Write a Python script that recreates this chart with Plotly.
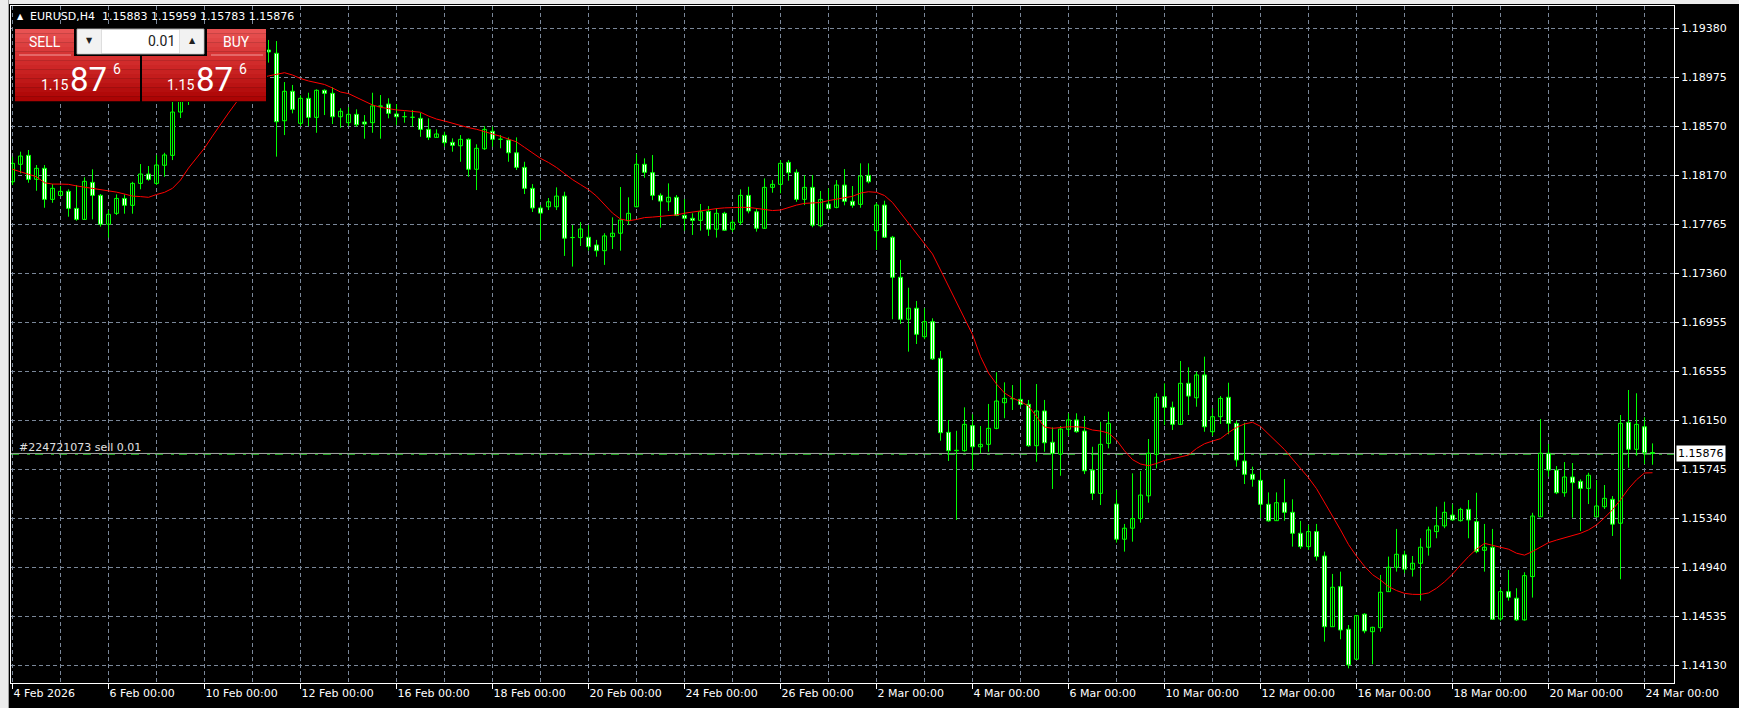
import plotly.graph_objects as go

# ---------------- data (EURUSD H4) ----------------
open_ = [1.18115,1.18259,1.18333,1.18135,1.18226,1.17970,1.18003,1.18036,1.17896,1.17805,
1.18110,1.18003,1.17765,1.17855,1.17978,1.17921,1.18102,1.18179,1.18102,1.18251,
1.18333,1.18690,1.18789,1.18830,1.18871,1.18954,1.18995,1.19053,1.19102,1.19069,
1.19135,1.19185,1.19201,1.19174,1.18618,1.18861,1.18597,1.18803,1.18646,1.18869,
1.18844,1.18651,1.18602,1.18671,1.18608,1.18602,1.18740,1.18756,1.18674,1.18651,
1.18646,1.18638,1.18547,1.18481,1.18498,1.18440,1.18412,1.18465,1.18218,1.18387,
1.18531,1.18465,1.18459,1.18354,1.18234,1.18061,1.17899,1.17909,1.17909,1.17997,
1.17655,1.17655,1.17658,1.17594,1.17547,1.17663,1.17691,1.17794,1.17909,1.18259,
1.18190,1.18003,1.17950,1.17987,1.17838,1.17814,1.17797,1.17871,1.17724,1.17855,
1.17724,1.17781,1.18003,1.17868,1.17732,1.18069,1.18094,1.18275,1.18193,1.17970,
1.18069,1.17753,1.17932,1.17904,1.18088,1.17954,1.17929,1.18168,1.17712,1.17923,
1.17658,1.17328,1.16982,1.17073,1.16838,1.16962,1.16660,1.16050,1.15899,1.15899,
1.16105,1.15931,1.15951,1.16083,1.16294,1.16327,1.16322,1.16281,1.15940,1.16226,
1.15968,1.15871,1.16075,1.16152,1.16061,1.15739,1.15547,1.15959,1.15459,1.15169,
1.15260,1.15339,1.15527,1.15869,1.16344,1.16256,1.16116,1.16454,1.16335,1.16523,
1.16055,1.16179,1.16339,1.16124,1.15814,1.15704,1.15654,1.15457,1.15322,1.15470,
1.15391,1.15218,1.15108,1.15232,1.15031,1.14448,1.14778,1.14427,1.14180,1.14551,
1.14407,1.14440,1.14737,1.14938,1.15040,1.14922,1.14971,1.15103,1.15232,1.15279,
1.15368,1.15322,1.15415,1.15314,1.15078,1.15103,1.14512,1.14737,1.14683,1.14504,
1.14861,1.15354,1.15877,1.15739,1.15552,1.15682,1.15646,1.15588,1.15354,1.15437,
1.15498,1.15301,1.16133,1.15910,1.16096,1.15883]

high = [1.18322,1.18363,1.18377,1.18253,1.18253,1.18096,1.18080,1.18053,1.18088,1.18152,
1.18218,1.18014,1.17882,1.18011,1.18011,1.18115,1.18261,1.18245,1.18336,1.18354,
1.18789,1.18888,1.18913,1.18954,1.19036,1.19078,1.19119,1.19160,1.19185,1.19201,
1.19267,1.19300,1.19284,1.19275,1.18937,1.18913,1.18828,1.18849,1.18877,1.18877,
1.18894,1.18721,1.18729,1.18712,1.18665,1.18849,1.18830,1.18803,1.18756,1.18693,
1.18707,1.18684,1.18638,1.18547,1.18528,1.18473,1.18500,1.18473,1.18424,1.18574,
1.18569,1.18500,1.18481,1.18481,1.18280,1.18096,1.17923,1.17981,1.18069,1.18033,
1.17759,1.17783,1.17759,1.17636,1.17691,1.17822,1.18072,1.17987,1.18344,1.18308,
1.18336,1.18020,1.18102,1.18006,1.17973,1.17855,1.17932,1.17915,1.17896,1.17868,
1.17800,1.18053,1.18074,1.17896,1.18143,1.18129,1.18294,1.18294,1.18218,1.18170,
1.18170,1.18039,1.18061,1.18129,1.18220,1.18080,1.18267,1.18267,1.17942,1.17959,
1.17669,1.17471,1.17242,1.17133,1.17073,1.16990,1.16721,1.16152,1.16063,1.16256,
1.16199,1.16102,1.16284,1.16545,1.16462,1.16440,1.16481,1.16317,1.16448,1.16317,
1.16091,1.16102,1.16207,1.16207,1.16185,1.15931,1.16137,1.16220,1.15574,1.15295,
1.15712,1.15731,1.15995,1.16372,1.16454,1.16303,1.16638,1.16586,1.16550,1.16674,
1.16248,1.16349,1.16459,1.16146,1.16129,1.15767,1.15745,1.15555,1.15555,1.15665,
1.15498,1.15320,1.15287,1.15295,1.15067,1.14883,1.14902,1.14462,1.14545,1.14559,
1.14448,1.14875,1.15026,1.15254,1.15075,1.15031,1.15177,1.15273,1.15437,1.15478,
1.15457,1.15429,1.15492,1.15552,1.15295,1.15254,1.14759,1.14916,1.14765,1.14897,
1.15387,1.16160,1.15954,1.15772,1.15805,1.15797,1.15663,1.15717,1.15657,1.15616,
1.15525,1.16193,1.16399,1.16372,1.16174,1.15959]

low = [1.18088,1.18185,1.18107,1.18041,1.17901,1.17942,1.17997,1.17827,1.17794,1.17800,
1.17805,1.17745,1.17655,1.17841,1.17852,1.17852,1.18053,1.18124,1.18088,1.18156,
1.18294,1.18641,1.18748,1.18789,1.18822,1.18888,1.18937,1.18995,1.19020,1.19020,
1.19078,1.19135,1.19097,1.18322,1.18500,1.18679,1.18574,1.18574,1.18519,1.18665,
1.18591,1.18560,1.18574,1.18569,1.18470,1.18519,1.18470,1.18638,1.18583,1.18602,
1.18569,1.18486,1.18459,1.18481,1.18404,1.18363,1.18280,1.18156,1.18047,1.18377,
1.18404,1.18391,1.18280,1.18212,1.18014,1.17866,1.17636,1.17882,1.17882,1.17504,
1.17416,1.17586,1.17547,1.17498,1.17430,1.17561,1.17547,1.17759,1.17904,1.18148,
1.17964,1.17737,1.17874,1.17832,1.17712,1.17677,1.17712,1.17669,1.17655,1.17710,
1.17702,1.17759,1.17855,1.17704,1.17726,1.18025,1.18020,1.18124,1.17950,1.17923,
1.17740,1.17740,1.17888,1.17896,1.17921,1.17901,1.17901,1.18102,1.17553,1.17652,
1.16982,1.16943,1.16715,1.16778,1.16817,1.16646,1.15981,1.15814,1.15328,1.15890,
1.15739,1.15877,1.15890,1.16075,1.16166,1.16234,1.16261,1.15931,1.15808,1.15890,
1.15583,1.15692,1.16020,1.16047,1.15706,1.15492,1.15451,1.15918,1.15141,1.15067,
1.15149,1.15306,1.15470,1.15753,1.16110,1.16069,1.16110,1.16193,1.16261,1.16055,
1.16020,1.16119,1.16034,1.15767,1.15624,1.15602,1.15342,1.15314,1.15322,1.15322,
1.15108,1.15089,1.15081,1.14993,1.14325,1.14448,1.14344,1.14105,1.14174,1.14394,
1.14138,1.14407,1.14737,1.14902,1.14889,1.14861,1.14663,1.15034,1.15177,1.15260,
1.15322,1.15314,1.15177,1.15054,1.14902,1.14504,1.14498,1.14663,1.14495,1.14498,
1.14688,1.15354,1.15684,1.15541,1.15519,1.15346,1.15237,1.15459,1.15354,1.15418,
1.15196,1.14839,1.15758,1.15857,1.15789,1.15783]

close = [1.18267,1.18327,1.18135,1.18226,1.17970,1.18061,1.18036,1.17896,1.17805,1.18119,
1.18003,1.17765,1.17847,1.17978,1.17921,1.18102,1.18179,1.18135,1.18253,1.18336,
1.18690,1.18789,1.18830,1.18871,1.18954,1.18995,1.19053,1.19102,1.19069,1.19135,
1.19185,1.19218,1.19185,1.18610,1.18861,1.18712,1.18803,1.18646,1.18869,1.18844,
1.18651,1.18696,1.18671,1.18585,1.18591,1.18740,1.18737,1.18679,1.18651,1.18651,
1.18646,1.18547,1.18481,1.18509,1.18437,1.18415,1.18465,1.18218,1.18391,1.18547,
1.18465,1.18465,1.18354,1.18234,1.18061,1.17899,1.17857,1.17950,1.17997,1.17650,
1.17655,1.17726,1.17580,1.17547,1.17669,1.17691,1.17800,1.17855,1.18259,1.18193,
1.18003,1.17956,1.17987,1.17838,1.17814,1.17797,1.17868,1.17724,1.17855,1.17716,
1.17781,1.18003,1.17874,1.17732,1.18069,1.18094,1.18267,1.18190,1.17970,1.18069,
1.17757,1.17970,1.17893,1.18088,1.17954,1.17921,1.18162,1.18115,1.17923,1.17658,
1.17328,1.16982,1.17073,1.16858,1.16962,1.16655,1.16047,1.15899,1.15902,1.16116,
1.15931,1.15951,1.16083,1.16308,1.16330,1.16327,1.16281,1.15940,1.16226,1.15964,
1.15877,1.16077,1.16152,1.16055,1.15733,1.15547,1.15951,1.16124,1.15169,1.15260,
1.15339,1.15533,1.15877,1.16339,1.16256,1.16116,1.16454,1.16349,1.16523,1.16096,
1.16179,1.16330,1.16124,1.15822,1.15704,1.15663,1.15457,1.15320,1.15470,1.15391,
1.15218,1.15108,1.15232,1.15026,1.14448,1.14773,1.14421,1.14133,1.14539,1.14413,
1.14443,1.14732,1.14938,1.15045,1.14922,1.14971,1.15103,1.15246,1.15279,1.15391,
1.15328,1.15415,1.15328,1.15067,1.15103,1.14509,1.14737,1.14691,1.14504,1.14869,
1.15360,1.15877,1.15739,1.15552,1.15682,1.15635,1.15588,1.15696,1.15443,1.15506,
1.15293,1.16124,1.15910,1.16116,1.15882,1.15876]

ma = [1.18218,1.18198,1.18179,1.18156,1.18107,1.18096,1.18096,1.18094,1.18081,1.18072,
1.18063,1.18053,1.18044,1.18030,1.18014,1.17997,1.17993,1.17987,1.18010,1.18028,
1.18061,1.18129,1.18228,1.18307,1.18393,1.18492,1.18591,1.18682,1.18772,1.18855,
1.18921,1.18970,1.18987,1.18999,1.19014,1.18995,1.18966,1.18946,1.18929,1.18917,
1.18888,1.18855,1.18842,1.18810,1.18777,1.18748,1.18729,1.18716,1.18707,1.18702,
1.18696,1.18688,1.18657,1.18632,1.18616,1.18597,1.18577,1.18561,1.18548,1.18531,
1.18509,1.18490,1.18467,1.18444,1.18399,1.18352,1.18308,1.18274,1.18233,1.18183,
1.18133,1.18092,1.18051,1.17997,1.17923,1.17857,1.17808,1.17794,1.17804,1.17820,
1.17824,1.17828,1.17832,1.17842,1.17856,1.17866,1.17875,1.17888,1.17894,1.17900,
1.17904,1.17904,1.17904,1.17894,1.17882,1.17878,1.17882,1.17904,1.17923,1.17937,
1.17940,1.17944,1.17960,1.17973,1.17985,1.17995,1.18022,1.18033,1.18028,1.18002,
1.17944,1.17860,1.17772,1.17689,1.17611,1.17520,1.17388,1.17256,1.17116,1.16984,
1.16856,1.16674,1.16539,1.16448,1.16374,1.16333,1.16304,1.16267,1.16176,1.16094,
1.16083,1.16090,1.16096,1.16096,1.16090,1.16069,1.16061,1.16044,1.15987,1.15898,
1.15825,1.15789,1.15775,1.15793,1.15819,1.15832,1.15845,1.15863,1.15917,1.15956,
1.15978,1.15998,1.16048,1.16091,1.16119,1.16133,1.16099,1.16036,1.15973,1.15908,
1.15830,1.15753,1.15676,1.15586,1.15476,1.15366,1.15246,1.15125,1.15029,1.14946,
1.14877,1.14833,1.14779,1.14746,1.14723,1.14715,1.14714,1.14726,1.14765,1.14818,
1.14881,1.14955,1.15026,1.15087,1.15135,1.15119,1.15105,1.15087,1.15054,1.15038,
1.15068,1.15104,1.15141,1.15162,1.15181,1.15196,1.15218,1.15246,1.15287,1.15346,
1.15412,1.15494,1.15585,1.15659,1.15715,1.15717]

date_labels = ["4 Feb 2026", "6 Feb 00:00", "10 Feb 00:00", "12 Feb 00:00", "16 Feb 00:00",
               "18 Feb 00:00", "20 Feb 00:00", "24 Feb 00:00", "26 Feb 00:00", "2 Mar 00:00",
               "4 Mar 00:00", "6 Mar 00:00", "10 Mar 00:00", "12 Mar 00:00", "16 Mar 00:00",
               "18 Mar 00:00", "20 Mar 00:00", "24 Mar 00:00"]
bars_per_label = 12
bars_per_day = 6
price_ticks = [1.19380, 1.18975, 1.18570, 1.18170, 1.17765, 1.17360, 1.16955,
               1.16555, 1.16150, 1.15745, 1.15340, 1.14940, 1.14535, 1.14130]
symbol = "EURUSD,H4"
bid = 1.15876
order_price = 1.15868
order_text = "#224721073 sell 0.01"
lot = "0.01"

# ---------------- figure ----------------
W, H = 1739, 708
L, R, T, B = 11, 1674, 6, 683


def px(x):
    return (x - L) / (R - L)


def py(y):
    return (B - y) / (B - T)


n = len(open_)
idx = list(range(n))
green = "#00FF00"

wx, wy = [], []
for i in idx:
    wx += [i, i, None]
    wy += [low[i], high[i], None]

bases = [min(o, c) for o, c in zip(open_, close)]
heights = [max(abs(c - o), 0.000012) for o, c in zip(open_, close)]
fills = ["#FFFFFF" if c < o else "#000000" for o, c in zip(open_, close)]

fig = go.Figure()
fig.add_trace(go.Scatter(x=wx, y=wy, mode="lines", line=dict(color=green, width=1),
                         hoverinfo="skip"))
fig.add_trace(go.Bar(x=idx, y=heights, base=bases, width=0.5,
                     marker=dict(color=fills, line=dict(color=green, width=1))))
fig.add_trace(go.Scatter(x=idx, y=ma, mode="lines", line=dict(color="#FF0000", width=1),
                         hoverinfo="skip"))

grid = "#7A8799"
axfont = dict(family="DejaVu Sans", size=11, color="#FFFFFF")
xt = list(range(0, n, bars_per_label))[:len(date_labels)]
xminor = list(range(bars_per_day, n, bars_per_label))

ppx = 8.0  # pixels per bar
x0 = -(12.5 - L) / ppx
x1 = x0 + (R - L) / ppx
pp = 0.0000824178  # price per pixel
y_top = price_ticks[0] + (28.3 - T) * pp
y_bot = price_ticks[0] - (B - 28.3) * pp

shapes = []
annotations = []


def rect(xa, ya, xb, yb, color, line=None, layer="above"):
    shapes.append(dict(type="rect", xref="paper", yref="paper",
                       x0=px(xa), x1=px(xb), y0=py(yb), y1=py(ya),
                       fillcolor=color, layer=layer,
                       line=dict(width=1, color=line) if line else dict(width=0)))


def txt(x, y, s, size, color, xanchor="left", family="Roboto"):
    annotations.append(dict(xref="paper", yref="paper", x=px(x), y=py(y), text=s,
                            showarrow=False, xanchor=xanchor, yanchor="middle",
                            font=dict(size=size, color=color, family=family), borderpad=0))


# bid & order lines
shapes.append(dict(type="line", xref="paper", yref="y", x0=0, x1=1, y0=bid, y1=bid,
                   line=dict(color="#A8A8A8", width=1), layer="below"))
shapes.append(dict(type="line", xref="paper", yref="y", x0=0, x1=1, y0=order_price,
                   y1=order_price, line=dict(color="#22B022", width=1, dash="8px,8px,3px,5px"),
                   layer="below"))

# window chrome
rect(0, 0, W, 4, "#ECECEC", layer="above")
rect(0, 0, 8, H, "#ECECEC", layer="above")
rect(8, 0, 9, H, "#A0A0A0", layer="above")

# trading panel
rect(13, 27, 267, 102, "#000000")


def grad(xa, ya, xb, yb, c_top, c_bot, steps):
    h = (yb - ya) / steps
    for k in range(steps):
        t = k / max(steps - 1, 1)
        c = tuple(int(round(c_top[j] + (c_bot[j] - c_top[j]) * t)) for j in range(3))
        rect(xa, ya + k * h, xb, ya + (k + 1) * h + 0.3, "rgb(%d,%d,%d)" % c)


for bx0, bx1 in ((15, 74), (207, 266)):
    grad(bx0, 29, bx1, 56, (232, 82, 82), (214, 52, 52), 6)
    rect(bx0 + 4, 54.5, bx1 - 3, 55.5, "#F29A9A")
for bx0, bx1 in ((15, 140), (142, 266)):
    grad(bx0, 56, bx1, 101, (214, 48, 48), (172, 4, 4), 10)

rect(77, 29, 204, 54, "#FFFFFF", line="#9A9A9A")
rect(77.5, 29.5, 101, 53.5, "#F2F2F2")
rect(180, 29.5, 203.5, 53.5, "#F2F2F2")
rect(101, 29.5, 101.6, 53.5, "#C8C8C8")
rect(179.4, 29.5, 180, 53.5, "#C8C8C8")

txt(44.5, 42, "SELL", 14, "#FFFFFF", xanchor="center")
txt(236.5, 42, "BUY", 14, "#FFFFFF", xanchor="center")
txt(89, 41, "▼", 8, "#202020", xanchor="center", family="DejaVu Sans")
txt(192, 41, "▲", 8, "#202020", xanchor="center", family="DejaVu Sans")
txt(176, 41, lot, 14, "#202020", xanchor="right")

bid_str = "%.5f" % bid
for bx, big_x, sup_x in ((40, 69, 112), (166, 195, 238)):
    txt(bx, 85, bid_str[:4], 14, "#FFFFFF")
    txt(big_x, 79, bid_str[4:6], 33, "#FFFFFF")
    txt(sup_x, 69, bid_str[6], 14, "#FFFFFF")

# title
txt(16, 16, "▲", 8, "#FFFFFF", family="DejaVu Sans")
txt(29, 16, symbol + "\u00a0\u00a0" + "\u00a0".join("%.5f" % v for v in
        (open_[-1], high[-1], low[-1], close[-1])), 11, "#FFFFFF", family="DejaVu Sans")
# order label
annotations.append(dict(xref="paper", yref="y", x=px(17), y=order_price, yshift=7,
                        text=order_text, showarrow=False, xanchor="left", yanchor="middle",
                        font=dict(size=11, color="#E0E0E0", family="DejaVu Sans")))
# current price tag
annotations.append(dict(xref="paper", yref="y", x=px(1676), y=bid, text=bid_str,
                        showarrow=False, xanchor="left", yanchor="middle", bgcolor="#FFFFFF",
                        borderpad=1, font=dict(size=11, color="#000000", family="DejaVu Sans")))

fig.update_layout(
    width=W, height=H,
    margin=dict(l=L, r=W - R, t=T, b=H - B, pad=0),
    paper_bgcolor="#000000", plot_bgcolor="#000000",
    showlegend=False, barmode="overlay",
    shapes=shapes, annotations=annotations,
    xaxis=dict(range=[x0, x1], tickmode="array", tickvals=xt, ticktext=date_labels,
               showgrid=True, gridcolor=grid, griddash="4px,3px", gridwidth=1,
               minor=dict(tickvals=xminor, showgrid=True, gridcolor=grid,
                          griddash="4px,3px", gridwidth=1, ticks=""),
               ticks="outside", ticklen=5, tickcolor="#FFFFFF", tickfont=axfont,
               ticklabelposition="outside right",
               showline=True, linecolor="#FFFFFF", linewidth=1, mirror=True,
               zeroline=False, fixedrange=True),
    yaxis=dict(range=[y_bot, y_top], side="right", tickmode="array", tickvals=price_ticks,
               ticktext=["%.5f" % v for v in price_ticks],
               showgrid=True, gridcolor=grid, griddash="4px,3px", gridwidth=1,
               ticks="outside", ticklen=4, tickcolor="#FFFFFF", tickfont=axfont,
               showline=True, linecolor="#FFFFFF", linewidth=1, mirror=True,
               zeroline=False, fixedrange=True),
)

fig.write_html("out.html", config={"displayModeBar": False},
               post_script="document.body.style.margin='0';document.body.style.background='#000';")
